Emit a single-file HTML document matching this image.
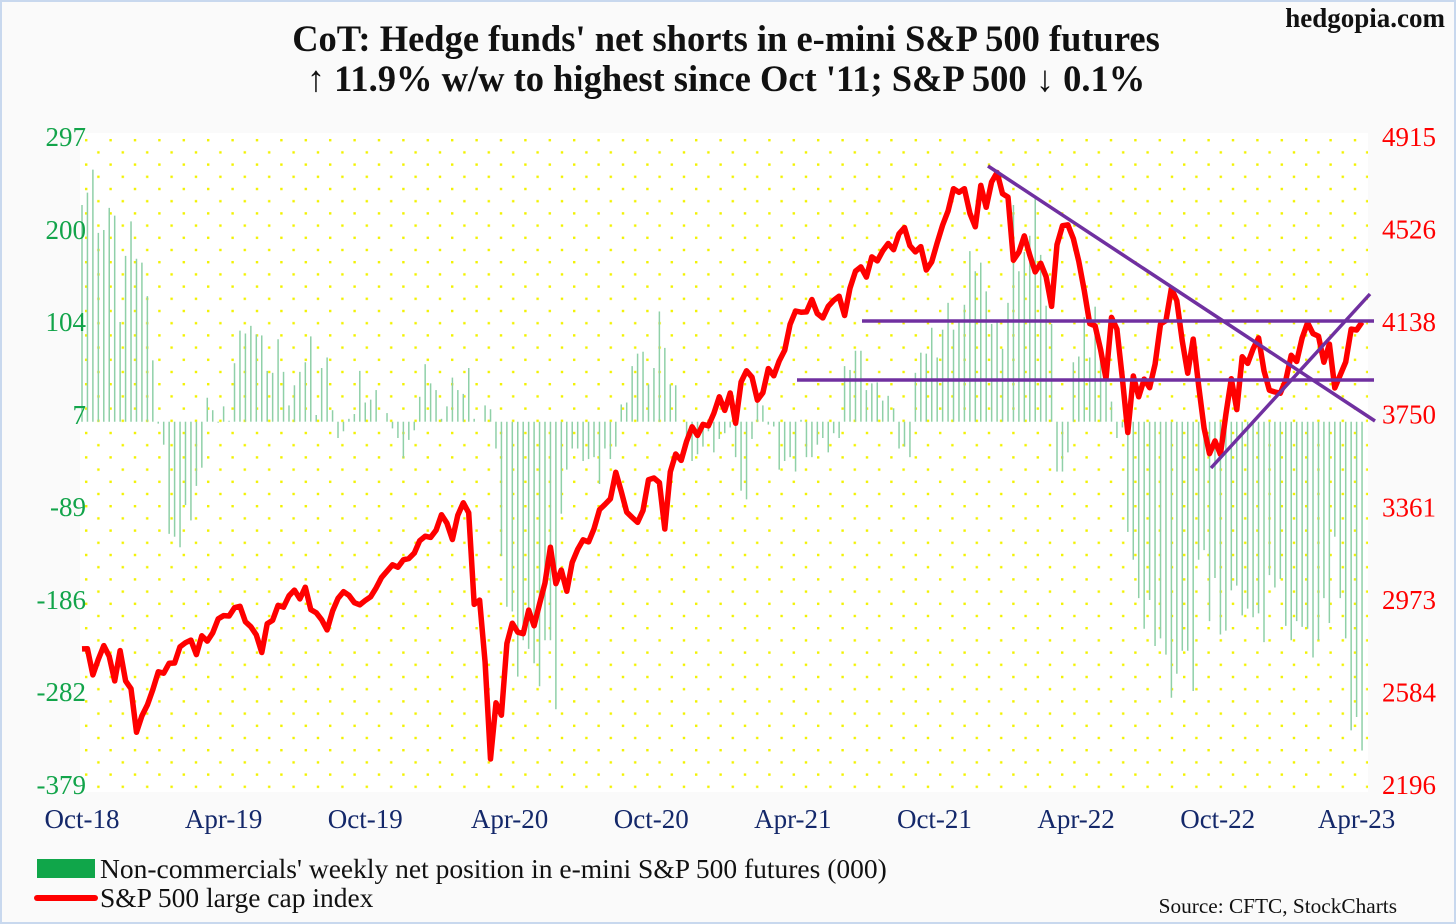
<!DOCTYPE html>
<html><head><meta charset="utf-8"><style>
body{margin:0;width:1456px;height:924px;background:#fafafa;overflow:hidden;font-family:"Liberation Serif",serif}
svg{position:absolute;left:0;top:0}
</style></head><body>
<svg id="chart" width="1456" height="924">
<defs><pattern id="dots" x="80" y="133" width="24.4" height="24.4" patternUnits="userSpaceOnUse">
<rect x="5" y="6" width="2.4" height="2.4" fill="#f2f200"/><rect x="17.2" y="18.2" width="2.4" height="2.4" fill="#f2f200"/></pattern></defs>
<rect x="1" y="1" width="1454" height="922" fill="none" stroke="#c8d8ee" stroke-width="2"/>
<rect x="80" y="133" width="1288" height="659" fill="#fff"/>
<rect x="80" y="133" width="1288" height="659" fill="url(#dots)"/>
<text x="1445" y="27" text-anchor="end" font-size="27" font-weight="bold" fill="#111">hedgopia.com</text>
<text x="726" y="51" text-anchor="middle" font-size="36.5" font-weight="bold" fill="#111">CoT: Hedge funds' net shorts in e-mini S&amp;P 500 futures</text>
<text x="726" y="91" text-anchor="middle" font-size="36.5" font-weight="bold" fill="#111">↑ 11.9% w/w to highest since Oct '11; S&amp;P 500 ↓ 0.1%</text>
<g id="bars"></g><g id="line"></g><g id="trend"></g><g id="axes"></g>
<rect x="37" y="859" width="58" height="19" fill="#10a64a"/>
<text x="100" y="878" font-size="27.5" fill="#111">Non-commercials' weekly net position in e-mini S&amp;P 500 futures (000)</text>
<line x1="37" y1="898" x2="95" y2="898" stroke="#f00" stroke-width="6" stroke-linecap="round"/>
<text x="100" y="907" font-size="27.5" fill="#111">S&amp;P 500 large cap index</text>
<text x="1397" y="913" text-anchor="end" font-size="21.3" fill="#111">Source: CFTC, StockCharts</text>
</svg>
<script>
const netPos=[226,239,263,197,200,223,215,104,173,209,170,166,131,64,-2,-24,-117,-120,-131,-87,-103,-67,-48,25,12,-1,16,1,61,95,92,100,91,90,53,51,86,52,17,38,52,62,89,7,56,67,12,-17,-10,3,8,53,20,23,33,0,9,-7,-17,-38,-19,-9,26,60,40,33,3,16,46,33,29,56,3,0,17,13,-28,-140,-193,-198,-266,-228,-237,-252,-276,-228,-228,-300,-96,-50,-28,-28,-41,-39,-37,-65,-28,-39,-26,18,20,58,71,73,39,56,115,77,39,38,0,-22,-41,-34,-26,-10,-32,-18,-12,-6,-37,-72,-81,-18,21,17,-3,-5,-50,-41,-37,-52,2,-37,-37,-24,-17,-32,-12,-17,58,54,74,74,33,40,41,22,27,14,-28,-26,-37,51,72,71,98,67,96,124,96,104,122,178,157,166,136,102,104,76,124,226,157,177,194,233,174,121,102,-52,-52,-32,62,68,109,67,120,73,53,21,-17,-6,-115,-144,-184,-216,-186,-234,-226,-243,-288,-263,-239,-239,-281,-144,-134,-208,-163,-222,-218,-176,-171,-202,-195,-204,-200,-230,-160,-173,-164,-213,-228,-208,-214,-216,-246,-228,-184,-210,-120,-184,-226,-322,-308,-343];
const spx=[2767,2768,2658,2723,2781,2736,2633,2760,2633,2600,2417,2486,2532,2596,2671,2665,2707,2708,2776,2793,2804,2743,2822,2800,2834,2893,2907,2905,2940,2946,2881,2860,2826,2752,2873,2887,2950,2942,2990,3014,2977,3026,2932,2919,2889,2847,2926,2979,3007,2992,2961,2952,2970,2986,3023,3067,3093,3120,3110,3141,3146,3169,3221,3240,3235,3265,3330,3295,3226,3328,3380,3338,2954,2972,2711,2305,2541,2489,2790,2875,2837,2831,2930,2864,2955,3044,3194,3041,3098,3009,3130,3185,3225,3216,3271,3351,3373,3397,3508,3427,3341,3319,3298,3348,3477,3484,3465,3270,3510,3585,3558,3638,3699,3663,3709,3703,3756,3825,3768,3841,3714,3887,3934,3907,3811,3842,3943,3913,3975,4020,4129,4185,4180,4181,4233,4174,4156,4204,4230,4247,4166,4281,4352,4370,4327,4412,4395,4437,4468,4442,4509,4535,4459,4433,4455,4357,4391,4471,4545,4605,4698,4683,4698,4595,4538,4712,4620,4726,4766,4677,4663,4398,4432,4500,4419,4349,4385,4329,4204,4463,4543,4546,4488,4393,4272,4132,4123,4023,3901,4158,4109,3901,3675,3912,3825,3899,3863,3962,4130,4145,4280,4228,4058,3924,4067,3873,3693,3586,3640,3583,3752,3901,3771,3993,3965,4026,4072,3934,3852,3845,3840,3895,3999,3973,4071,4136,4090,4079,3970,4046,3862,3917,3971,4109,4105,4138];
const leftTicks=[297,200,104,7,-89,-186,-282,-379];
const rightTicks=[4915,4526,4138,3750,3361,2973,2584,2196];
const xLabels=["Oct-18","Apr-19","Oct-19","Apr-20","Oct-20","Apr-21","Oct-21","Apr-22","Oct-22","Apr-23"];
const xLabelWeeks=[0,26,52,78.5,104.5,130.5,156.5,182.5,208.5,234];
const NS='http://www.w3.org/2000/svg';
const xS=i=>82+i*5.447;
const yL=v=>137+(297-v)*648/676;
const yR=v=>137+(4915-v)*648/2719;
function mk(tag,attrs,parent){const e=document.createElementNS(NS,tag);for(const k in attrs)e.setAttribute(k,attrs[k]);parent.appendChild(e);return e;}
const gb=document.getElementById('bars');
netPos.forEach((v,i)=>{const b=mk('line',{x1:xS(i),x2:xS(i),y1:yL(0),y2:yL(v),stroke:'#8fd0a8','stroke-width':1.5},gb);

});
const gl=document.getElementById('line');
const p=mk('polyline',{points:spx.map((v,i)=>xS(i).toFixed(1)+','+yR(v).toFixed(1)).join(' '),fill:'none',stroke:'#f00','stroke-width':5.5,'stroke-linejoin':'round'},gl);


const gt=document.getElementById('trend');
[[988,166,1375,421,'trend-line-down'],[862,321,1374,321,'resistance-line'],[797,380,1374,380,'support-line'],[1211,468,1370,294,'trend-line-up']].forEach(t=>{
const l=mk('line',{x1:t[0],y1:t[1],x2:t[2],y2:t[3],stroke:'#7030a0','stroke-width':3.5},gt);

});
const ga=document.getElementById('axes');
leftTicks.forEach(v=>{const t=mk('text',{x:86,y:yL(v)+9,'text-anchor':'end','font-size':27,fill:'#12a44a'},ga);t.textContent=v;

});
rightTicks.forEach(v=>{const t=mk('text',{x:1382,y:yR(v)+9,'font-size':27,fill:'#f00'},ga);t.textContent=v;

});
xLabels.forEach((s,i)=>{const t=mk('text',{x:xS(xLabelWeeks[i]),y:828,'text-anchor':'middle','font-size':27,fill:'#14286a'},ga);t.textContent=s;

});
</script>
</body></html>
